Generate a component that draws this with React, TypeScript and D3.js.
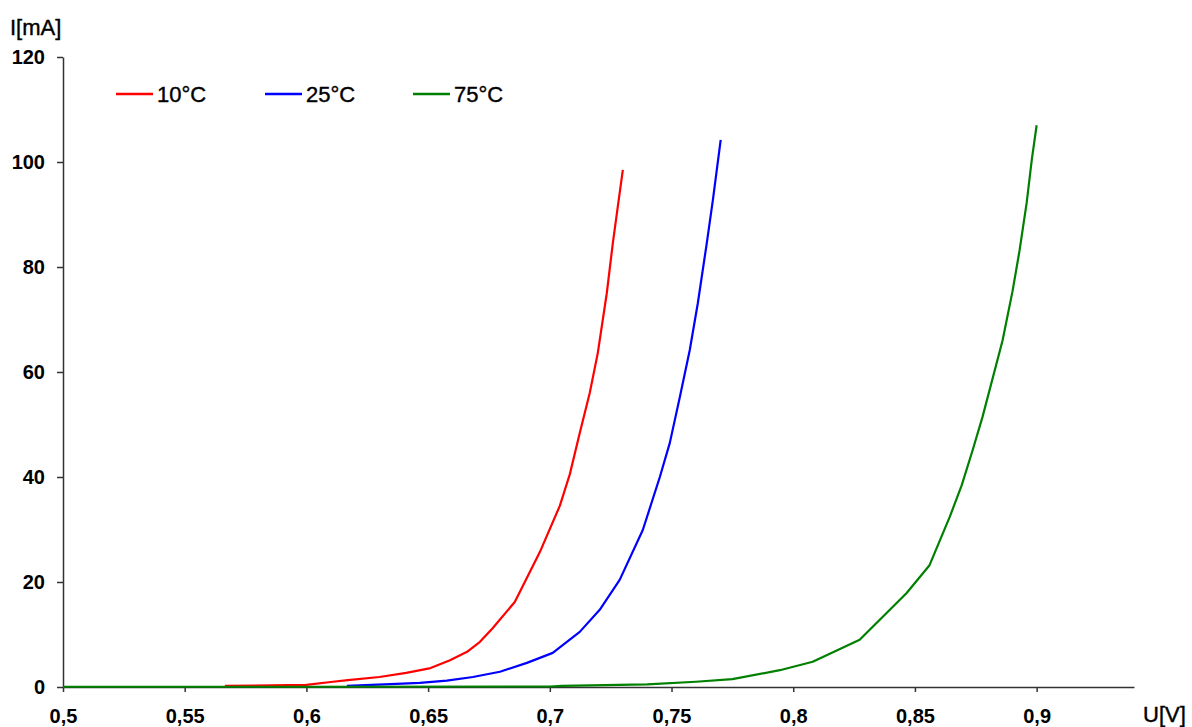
import React, { useEffect, useRef } from 'react';
import * as d3 from 'd3';

// diode I-U curves
const u10 = [0.5665, 0.6, 0.61, 0.617, 0.63, 0.641, 0.651, 0.659, 0.666, 0.6713, 0.6765, 0.6856, 0.6959, 0.7041, 0.7082, 0.7123, 0.7164, 0.7197, 0.7234, 0.7259, 0.7279, 0.73];
const i10 = [0.2, 0.4, 0.95, 1.3, 1.9, 2.7, 3.6, 5.1, 6.7, 8.6, 11.2, 16.2, 25.7, 34.5, 40.5, 48.4, 56, 63.6, 75, 84.6, 91.4, 98.5];

const u25 = [0.6166, 0.637, 0.6466, 0.6577, 0.6684, 0.6795, 0.6906, 0.7012, 0.7123, 0.7205, 0.7287, 0.7382, 0.7452, 0.7493, 0.7534, 0.7575, 0.7608, 0.7645, 0.767, 0.7702];
const i25 = [0.2, 0.6, 0.8, 1.2, 1.9, 2.9, 4.6, 6.5, 10.5, 14.7, 20.4, 29.9, 40, 46.5, 55.2, 64.2, 73.1, 84.6, 92.8, 104.2];

const u75 = [0.5, 0.6, 0.7, 0.705, 0.74, 0.76, 0.775, 0.7945, 0.808, 0.8273, 0.8466, 0.856, 0.8643, 0.8692, 0.8737, 0.8778, 0.886, 0.8901, 0.893, 0.8959, 0.898, 0.9];
const i75 = [0.05, 0.05, 0.1, 0.2, 0.5, 1.0, 1.5, 3.2, 4.8, 9, 17.9, 23.2, 32.4, 38.4, 45.1, 51.5, 66, 75.4, 83.2, 92.2, 100.4, 107];

const seriesNames = ['10°C', '25°C', '75°C'];
const seriesColors = ['#ff0000', '#0000ff', '#008000'];
const xTicks = [0.5, 0.55, 0.6, 0.65, 0.7, 0.75, 0.8, 0.85, 0.9];
const yTicks = [0, 20, 40, 60, 80, 100, 120];

export default function App() {
  const svgRef = useRef<SVGSVGElement>(null);

  useEffect(() => {
    const svg = d3.select(svgRef.current);
    svg.selectAll('*').remove();

    const width = 1192;
    const height = 727;
    const margin = { top: 57, right: 58, bottom: 40, left: 63 };

    const x = d3.scaleLinear().domain([0.5, 0.94]).range([margin.left, width - margin.right]);
    const y = d3.scaleLinear().domain([0, 120]).range([height - margin.bottom, margin.top]);

    const font = 'Arial, "Liberation Sans", sans-serif';

    // X axis
    const xAxis = svg.append('g')
      .attr('transform', `translate(0,${y(0)})`)
      .call(d3.axisBottom(x)
        .tickValues(xTicks)
        .tickSizeInner(5)
        .tickSizeOuter(0)
        .tickPadding(17)
        .tickFormat(d => String(d).replace('.', ',')));
    xAxis.select('.domain').attr('stroke', '#333').attr('stroke-width', 1.5);
    xAxis.selectAll('.tick line').attr('stroke', '#333').attr('stroke-width', 1.5);
    xAxis.selectAll('text')
      .attr('fill', '#000')
      .style('font-family', font)
      .style('font-size', '20px')
      .style('font-weight', 'bold');

    // Y axis
    const yAxis = svg.append('g')
      .attr('transform', `translate(${x(0.5)},0)`)
      .call(d3.axisLeft(y)
        .tickValues(yTicks)
        .tickSizeInner(6)
        .tickSizeOuter(0)
        .tickPadding(12));
    yAxis.select('.domain').attr('stroke', '#333').attr('stroke-width', 1.5);
    yAxis.selectAll('.tick line').attr('stroke', '#333').attr('stroke-width', 1.5);
    yAxis.selectAll('text')
      .attr('fill', '#000')
      .style('font-family', font)
      .style('font-size', '20px')
      .style('font-weight', 'bold');

    // Curves (straight segments between read points)
    const series = [
      { u: u10, i: i10 },
      { u: u25, i: i25 },
      { u: u75, i: i75 },
    ];
    const line = d3.line<[number, number]>()
      .x(d => x(d[0]))
      .y(d => y(d[1]));

    series.forEach((s, k) => {
      const pts = s.u.map((u, j) => [u, s.i[j]] as [number, number]);
      svg.append('path')
        .datum(pts)
        .attr('fill', 'none')
        .attr('stroke', seriesColors[k])
        .attr('stroke-width', 2.2)
        .attr('stroke-linejoin', 'round')
        .attr('d', line);
    });

    // Legend
    const legendX = [116, 265, 413];
    seriesNames.forEach((name, k) => {
      const g = svg.append('g').attr('transform', `translate(${legendX[k]},94)`);
      g.append('line')
        .attr('x1', 0).attr('x2', 37)
        .attr('stroke', seriesColors[k])
        .attr('stroke-width', 2.5);
      g.append('text')
        .attr('x', 41).attr('y', 8)
        .style('font-family', font)
        .style('font-size', '22px')
        .attr('fill', '#000')
        .attr('stroke', '#000')
        .attr('stroke-width', 0.4)
        .text(name);
    });

    // Axis titles
    svg.append('text')
      .attr('x', 10).attr('y', 35)
      .style('font-family', font)
      .style('font-size', '22px')
      .attr('fill', '#000')
      .attr('stroke', '#000')
      .attr('stroke-width', 0.4)
      .text('I[mA]');

    svg.append('text')
      .attr('x', 1143).attr('y', 722)
      .style('font-family', font)
      .style('font-size', '22px')
      .attr('fill', '#000')
      .attr('stroke', '#000')
      .attr('stroke-width', 0.4)
      .text('U[V]');
  }, []);

  return (
    <svg
      ref={svgRef}
      width={1192}
      height={727}
      style={{ position: 'absolute', left: 0, top: 0, background: '#fff' }}
    />
  );
}
